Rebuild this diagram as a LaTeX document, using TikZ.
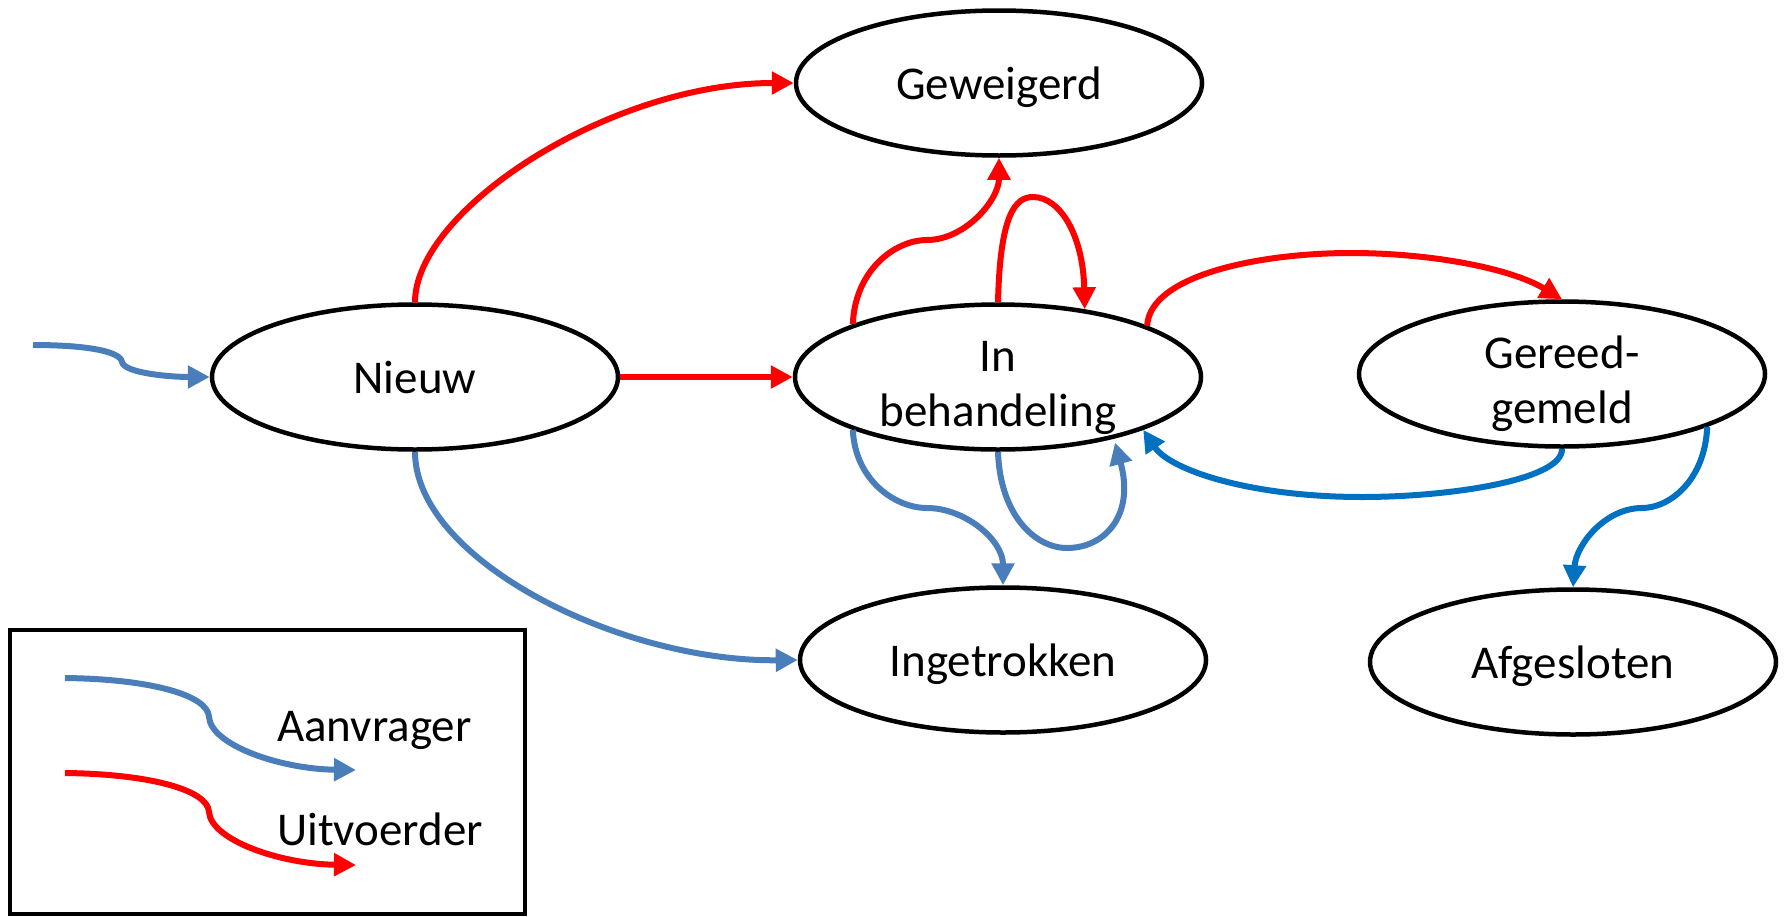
\documentclass[tikz,border=0pt]{standalone}
\usepackage{fontspec}
\setmainfont{Carlito}
\usetikzlibrary{shapes.geometric,arrows.meta}
\definecolor{cred}{HTML}{FF0000}
\definecolor{cblue}{HTML}{4A7EBB}
\definecolor{cdblue}{HTML}{0070C0}
\newcommand{\toppad}{\rule{0pt}{43pt}}
\tikzset{
  state/.style={ellipse, draw=black, line width=4.5pt, minimum width=406pt, minimum height=145pt, inner sep=0pt, font=\fontsize{47}{55}\selectfont, align=center, text depth=0pt},
  flowred/.style={draw=cred, line width=6pt, -{Triangle[length=22pt,width=22pt]}},
  flowblue/.style={draw=cblue, line width=6pt, -{Triangle[length=22pt,width=22pt]}},
  flowdblue/.style={draw=cdblue, line width=6pt, -{Triangle[length=22pt,width=22pt]}},
  legtext/.style={anchor=base west, font=\fontsize{47}{55}\selectfont, inner sep=0pt}
}
\begin{document}
\begin{tikzpicture}[x=1pt,y=1pt]
\useasboundingbox (0,0) rectangle (1785,-916);
\node[state] (Gew) at (999,-83) {Geweigerd};
\node[state] (Inb) at (998,-377) {\toppad In\\behandeling};
\node[state] (Ger) at (1562,-374) {\toppad Gereed-\\gemeld};
\node[state] (Nie) at (415,-377) {Nieuw};
\node[state] (Ing) at (1003,-660) {Ingetrokken};
\node[state] (Afg) at (1573,-662) {Afgesloten};

\coordinate (entry) at (33,-345);
\draw[flowblue] (entry) .. controls (80,-345) and (120,-350) .. (122,-362) .. controls (124,-373) and (170,-377) .. (Nie.west);
\draw[flowred] (Nie.north) .. controls (415,-210) and (610,-83) .. (Gew.west);
\draw[flowred] (Nie.east) -- (Inb.west);
\draw[flowred] (Inb.160) .. controls (855,-270) and (895,-240) .. (927,-240) .. controls (965,-240) and (999,-200) .. (Gew.south);
\draw[flowred] (Inb.north) .. controls (1000,-215) and (1015,-197) .. (1033,-197) .. controls (1060,-197) and (1083,-235) .. (Inb.38);
\draw[flowred] (Inb.19) .. controls (1150,-275) and (1260,-253) .. (1351,-253) .. controls (1430,-253) and (1510,-268) .. (Ger.north);
\draw[flowdblue] (Ger.south) .. controls (1563,-480) and (1450,-497) .. (1362,-497) .. controls (1250,-497) and (1170,-470) .. (Inb.-20);
\draw[flowdblue] (Ger.-20) .. controls (1705,-480) and (1670,-508) .. (1642,-508) .. controls (1605,-508) and (1576,-545) .. (Afg.north);
\draw[flowblue] (Inb.200) .. controls (855,-480) and (895,-508) .. (927,-508) .. controls (965,-508) and (1003,-540) .. (Ing.north);
\draw[flowblue, shorten >=4pt] (Inb.south) .. controls (1000,-515) and (1035,-548) .. (1067,-548) .. controls (1105,-548) and (1135,-515) .. (Inb.-28);
\draw[flowblue] (Nie.south) .. controls (415,-560) and (620,-662) .. (Ing.west);

\node[draw=black, line width=4.5pt, minimum width=515pt, minimum height=284pt, inner sep=0pt] (legend) at (267.5,-772) {};
\coordinate (la1) at (65,-678);
\coordinate (la2) at (356,-770);
\coordinate (lb1) at (65,-773);
\coordinate (lb2) at (356,-865);
\draw[flowblue] (la1) .. controls (150,-679) and (208,-695) .. (209,-717) .. controls (211,-745) and (280,-769) .. (la2);
\draw[flowred] (lb1) .. controls (150,-774) and (208,-790) .. (209,-812) .. controls (211,-840) and (280,-864) .. (lb2);
\node[legtext] (ta) at (277,-741) {Aanvrager};
\node[legtext] (tu) at (277,-845) {Uitvoerder};
\end{tikzpicture}
\end{document}
